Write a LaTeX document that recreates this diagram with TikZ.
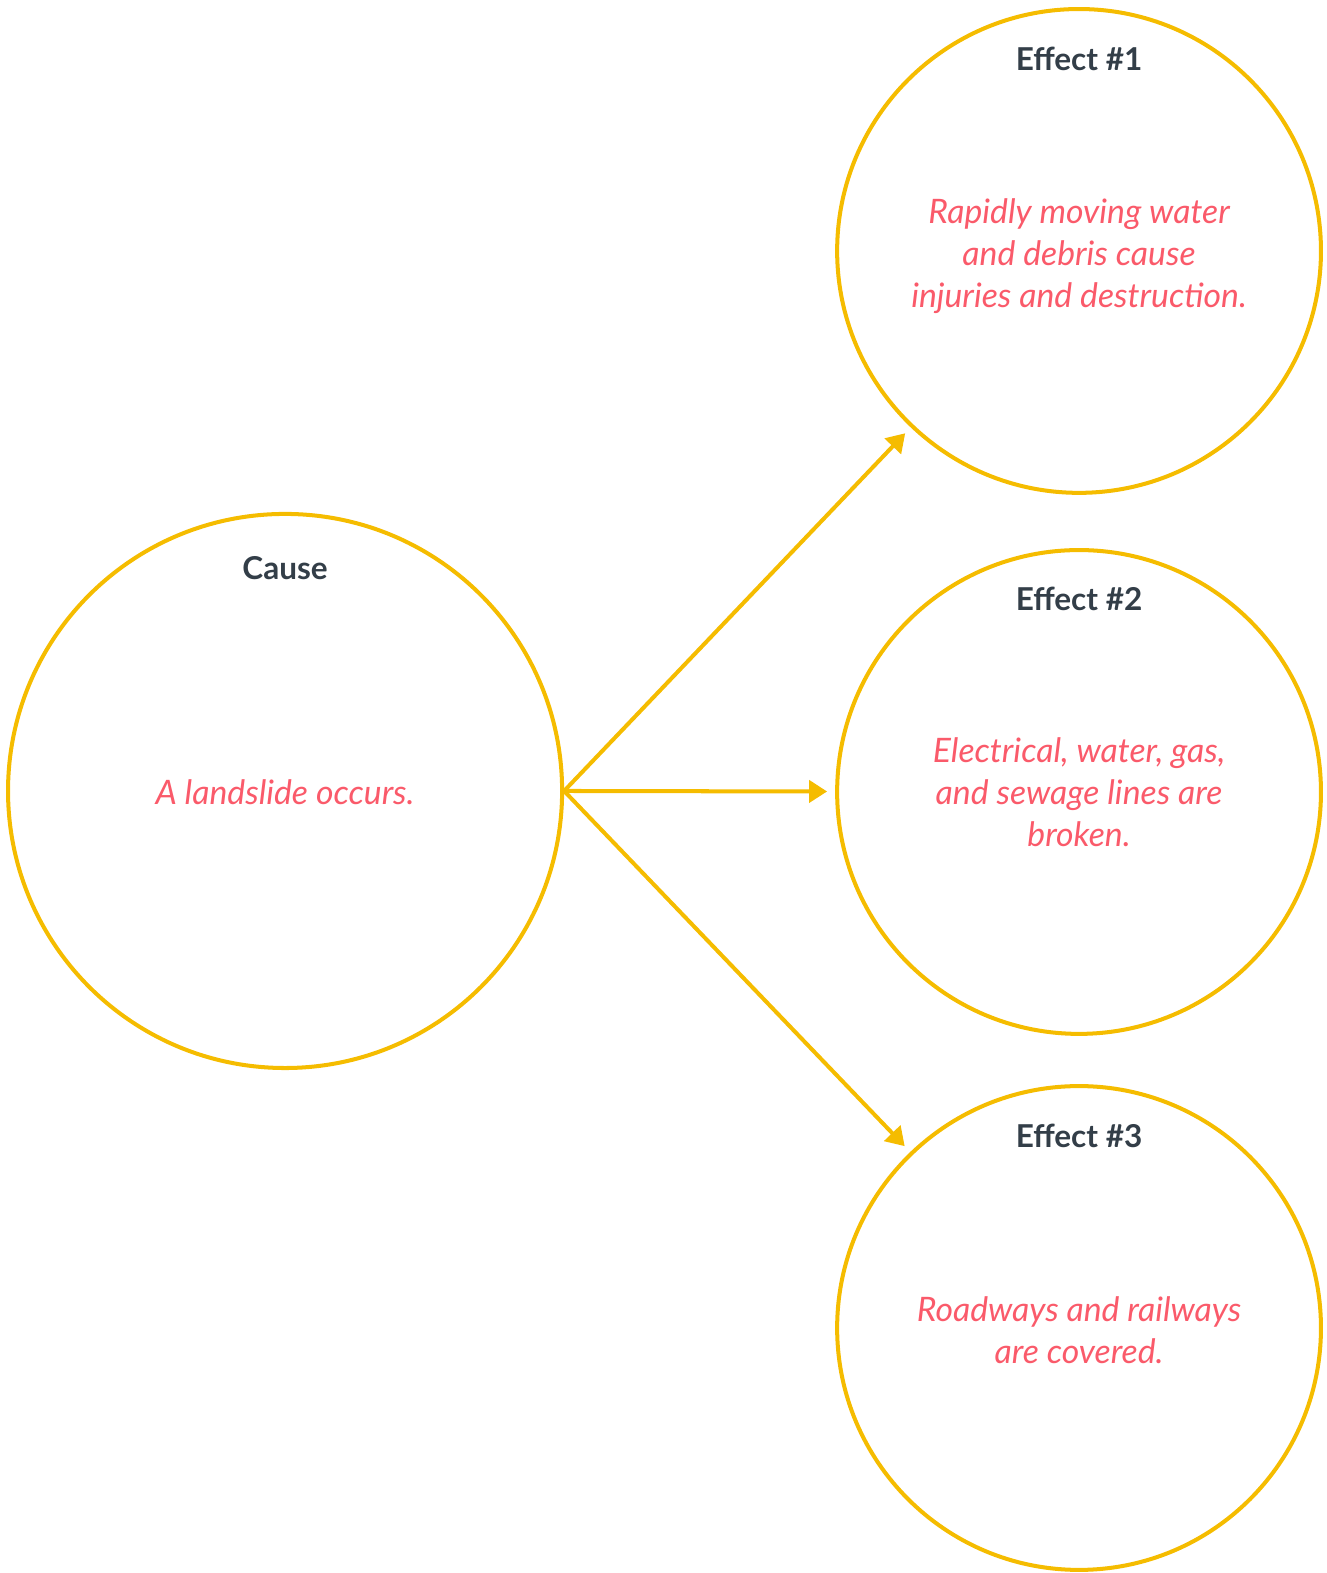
\documentclass[tikz,border=0pt]{standalone}
\usepackage{fontspec}
\setmainfont{Lato}
\usetikzlibrary{positioning}
\usetikzlibrary{arrows.meta}
\definecolor{ringyellow}{HTML}{F5BC00}
\definecolor{titlegray}{HTML}{333E48}
\definecolor{bodyred}{HTML}{FA5A6A}

\begin{document}
\begin{tikzpicture}
[x=0.5pt,y=-0.5pt,>={Triangle[length=9pt,width=11pt]},%
  ring/.style={draw=ringyellow,line width=2pt,circle,inner sep=0pt},
  title/.style={font=\fontsize{15.7}{19}\selectfont\bfseries,text=titlegray},
  body/.style={font=\fontsize{16.8}{21}\selectfont\itshape,text=bodyred,align=center},
  link/.style={->,draw=ringyellow,line width=2pt,shorten >=4pt}]
\useasboundingbox (0,0) rectangle (1322,1567.1);
%% circles
\node[ring,minimum size=276pt] (cause) at (284,788) {};
\node[ring,minimum size=241pt] (eff1) at (1075,250) {};
\node[ring,minimum size=241pt] (eff2) at (1075,789) {};
\node[ring,minimum size=241pt] (eff3) at (1075,1323) {};
%% titles
\node[title,below=18.5pt of cause.north,on grid] {Cause};
\node[title,below=16.5pt of eff1.north,on grid] {Effect \#1};
\node[title,below=16pt of eff2.north,on grid] {Effect \#2};
\node[title,below=16.5pt of eff3.north,on grid] {Effect \#3};
%% texts
\node[body] at ([yshift=-0.5pt]cause) {A landslide occurs.};
\node[body] at ([yshift=-2.5pt]eff1) {Rapidly moving water\\and debris cause\\injuries and destruction.};
\node[body] at (eff2) {Electrical, water, gas,\\and sewage lines are\\broken.};
\node[body] at ([yshift=-1pt]eff3) {Roadways and railways\\are covered.};
%% arrows
\draw[link] (cause.east) -- (eff1);
\draw[link] (cause.east) -- (eff2);
\draw[link] (cause.east) -- (eff3);
\end{tikzpicture}
\end{document}
